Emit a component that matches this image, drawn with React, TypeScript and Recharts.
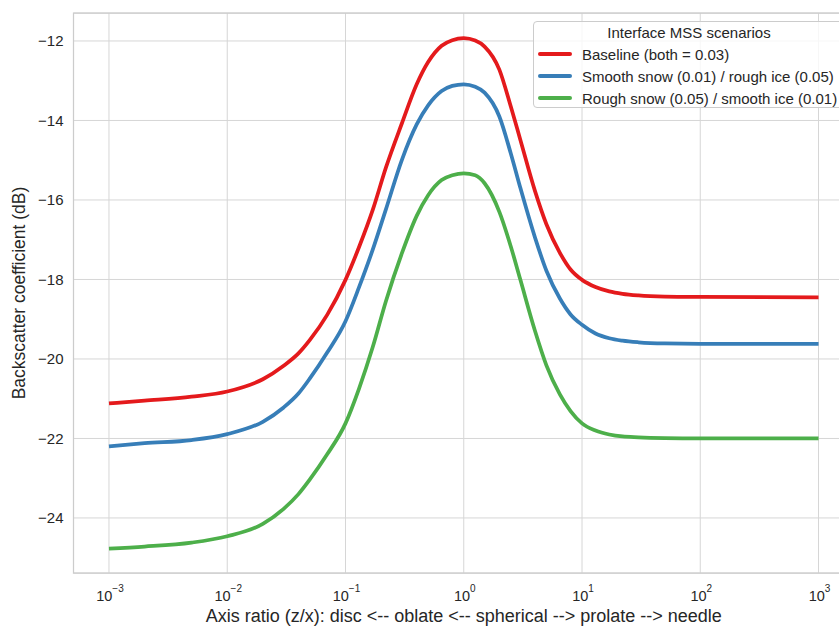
import React from "react";
import {
  LineChart,
  Line,
  XAxis,
  YAxis,
  CartesianGrid,
  ReferenceArea,
  Label,
} from "recharts";

// axis ratio z/x
const ratio = [
  0.001, 0.002, 0.005, 0.01, 0.02, 0.03, 0.04, 0.05, 0.07, 0.1, 0.13, 0.17,
  0.22, 0.3, 0.4, 0.5, 0.65, 0.8, 1, 1.25, 1.5, 2, 2.5, 3, 4, 5, 6.5, 8, 10,
  13, 17, 22, 30, 50, 100, 1000,
];

// backscatter (dB) per scenario
const baseline = [
  -21.12, -21.05, -20.95, -20.82, -20.51, -20.17, -19.86, -19.52, -18.89,
  -18.01, -17.19, -16.25, -15.18, -14.07, -13.09, -12.53, -12.12, -11.98,
  -11.93, -11.99, -12.14, -12.72, -13.65, -14.47, -15.77, -16.61, -17.33,
  -17.75, -18.01, -18.19, -18.3, -18.36, -18.4, -18.43, -18.44, -18.45,
];
const smoothSnow = [
  -22.2, -22.12, -22.04, -21.89, -21.58, -21.22, -20.87, -20.49, -19.84,
  -19.05, -18.2, -17.25, -16.23, -14.99, -14.1, -13.62, -13.26, -13.13,
  -13.09, -13.15, -13.3, -13.9, -14.83, -15.68, -16.94, -17.78, -18.48,
  -18.88, -19.14, -19.36, -19.48, -19.54, -19.58, -19.61, -19.62, -19.62,
];
const roughSnow = [
  -24.77, -24.72, -24.62, -24.46, -24.15, -23.77, -23.4, -23.03, -22.4,
  -21.62, -20.75, -19.7, -18.54, -17.34, -16.4, -15.88, -15.5, -15.38,
  -15.33, -15.38, -15.58, -16.3, -17.17, -17.99, -19.29, -20.16, -20.89,
  -21.31, -21.62, -21.8, -21.9, -21.95, -21.97, -21.99, -22.0, -22.0,
];

const xTicks = [0.001, 0.01, 0.1, 1, 10, 100, 1000];
const yTicks = [-24, -22, -20, -18, -16, -14, -12];

const series = [
  { key: "baseline", name: "Baseline (both = 0.03)", color: "#e41a1c" },
  { key: "smooth", name: "Smooth snow (0.01) / rough ice (0.05)", color: "#377eb8" },
  { key: "rough", name: "Rough snow (0.05) / smooth ice (0.01)", color: "#4daf4a" },
];

const data = ratio.map((r, i) => ({
  ratio: r,
  baseline: baseline[i],
  smooth: smoothSnow[i],
  rough: roughSnow[i],
}));

const X_MIN = Math.pow(10, -3.3);
const X_MAX = Math.pow(10, 3.3);
const Y_MIN = -25.385;
const Y_MAX = -11.296;

const FONT = "'Liberation Sans', Arial, sans-serif";
const TEXT = "#262626";

const PowTick = (props: any) => {
  const { x, y, payload } = props;
  const exp = Math.round(Math.log10(payload.value));
  return (
    <text x={x + 1} y={y + 28} textAnchor="middle" fontFamily={FONT} fill={TEXT}>
      <tspan fontSize={14.5}>10</tspan>
      <tspan fontSize={10} dy={-9}>
        {exp < 0 ? "\u2212" + Math.abs(exp) : exp}
      </tspan>
    </text>
  );
};

// legend drawn on top of the chart, like the matplotlib box
const LegendBox = () => (
  <div
    style={{
      position: "absolute",
      top: 21,
      left: 533,
      width: 310,
      height: 87,
      boxSizing: "border-box",
      border: "1px solid #cccccc",
      borderRadius: 4,
      background: "rgba(255,255,255,0.8)",
      fontFamily: FONT,
      fontSize: 15,
      color: TEXT,
    }}
  >
    <div style={{ position: "absolute", top: 2, left: 0, width: 310, textAlign: "center" }}>
      Interface MSS scenarios
    </div>
    {series.map((s, i) => (
      <div
        key={s.key}
        style={{ position: "absolute", top: 22 + i * 22, left: 0, height: 20, display: "flex", alignItems: "center" }}
      >
        <div style={{ width: 34, height: 4, borderRadius: 2, background: s.color, marginLeft: 4 }} />
        <span style={{ marginLeft: 10, whiteSpace: "nowrap" }}>{s.name}</span>
      </div>
    ))}
  </div>
);

export default function App() {
  return (
    <div style={{ position: "absolute", left: 0, top: 0, width: 839, height: 628, overflow: "hidden", background: "#fff" }}>
      <LineChart
        width={860}
        height={628}
        data={data}
        margin={{ top: 13, right: 6, left: 0, bottom: 0 }}
      >
        <CartesianGrid stroke="#d6d6d6" strokeWidth={1} />
        <XAxis
          dataKey="ratio"
          type="number"
          scale="log"
          domain={[X_MIN, X_MAX]}
          ticks={xTicks}
          allowDataOverflow
          axisLine={false}
          tickLine={false}
          tickSize={0}
          tickMargin={0}
          height={55}
          tick={<PowTick />}
        >
          <Label
            value="Axis ratio (z/x): disc <-- oblate <-- spherical --> prolate --> needle"
            position="bottom"
            offset={-19}
            style={{ fontSize: 18, fontFamily: FONT, fill: TEXT }}
          />
        </XAxis>
        <YAxis
          type="number"
          domain={[Y_MIN, Y_MAX]}
          ticks={yTicks}
          allowDataOverflow
          axisLine={false}
          tickLine={false}
          tickSize={0}
          tickMargin={10}
          width={73.5}
          tickFormatter={(v: number) => String(v).replace("-", "\u2212")}
          tick={{ fontSize: 15, fontFamily: FONT, fill: TEXT }}
        >
          <Label
            value="Backscatter coefficient (dB)"
            angle={-90}
            position="insideLeft"
            offset={0}
            dx={19}
            style={{ fontSize: 17.5, fontFamily: FONT, fill: TEXT, textAnchor: "middle" }}
          />
        </YAxis>
        <ReferenceArea
          x1={X_MIN}
          x2={X_MAX}
          y1={Y_MIN}
          y2={Y_MAX}
          fill="none"
          stroke="#cccccc"
          strokeWidth={1.25}
          ifOverflow="visible"
        />
        {series.map((s) => (
          <Line
            key={s.key}
            type="monotone"
            dataKey={s.key}
            name={s.name}
            stroke={s.color}
            strokeWidth={3.75}
            dot={false}
            activeDot={false}
            isAnimationActive={false}
          />
        ))}
      </LineChart>
      <LegendBox />
    </div>
  );
}
